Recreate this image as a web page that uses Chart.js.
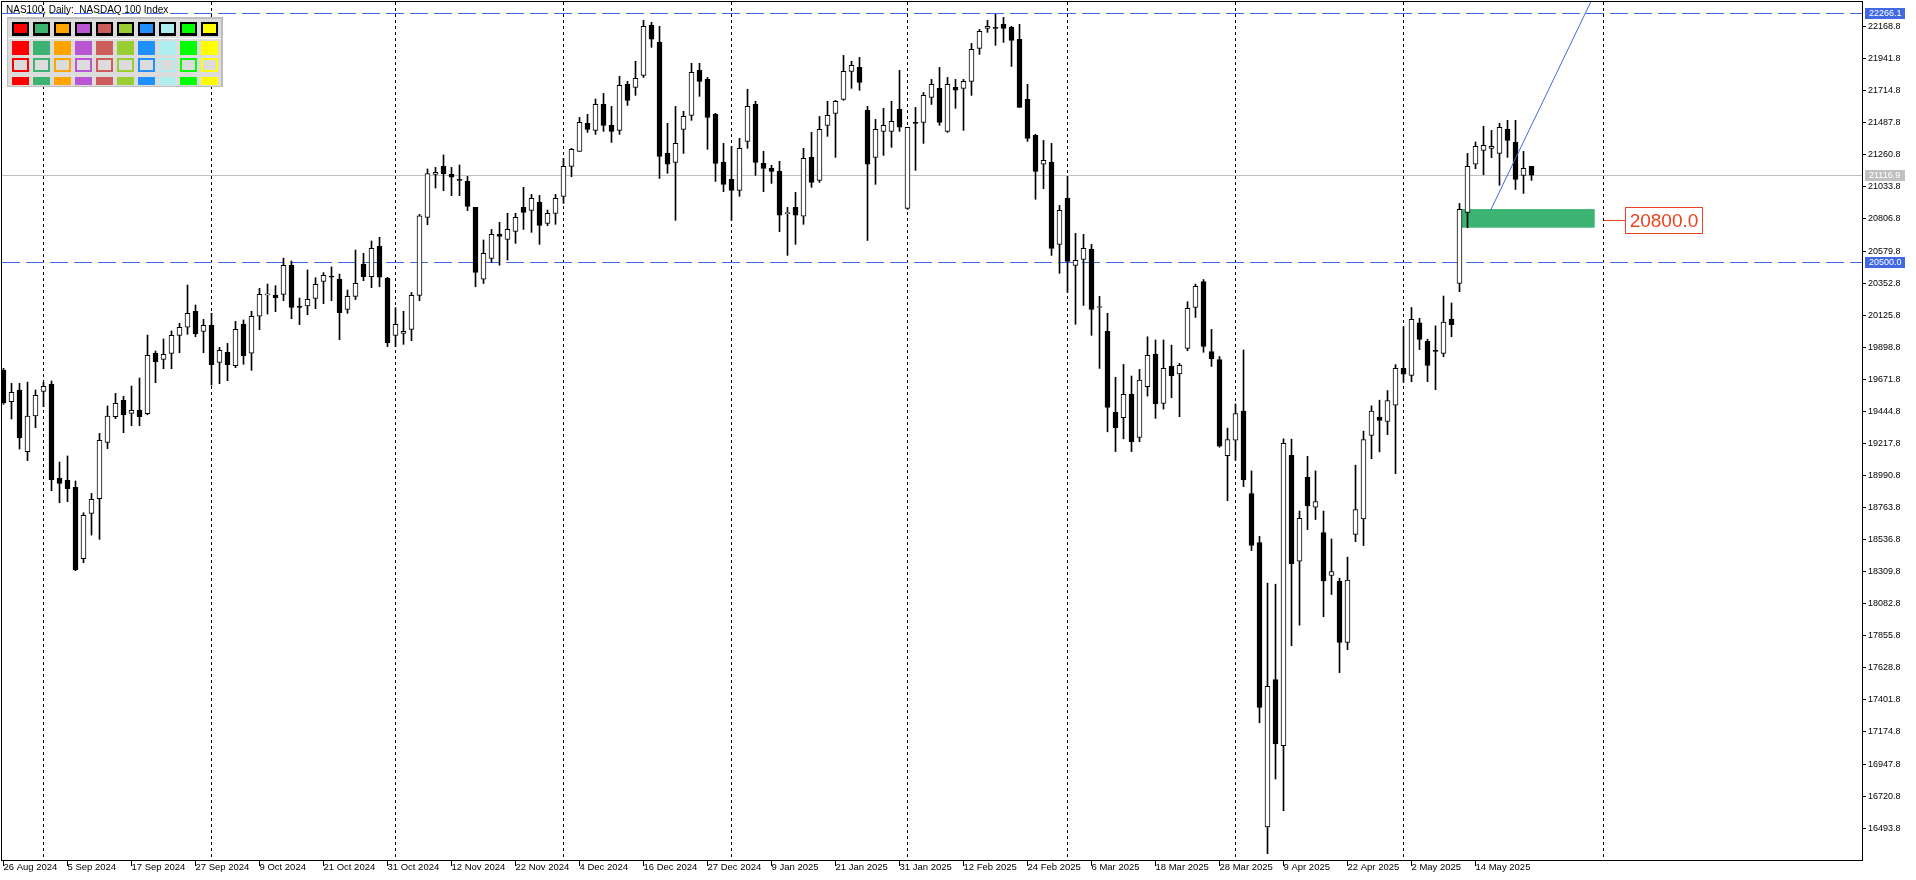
<!DOCTYPE html>
<html>
<head>
<meta charset="utf-8">
<title>NAS100 Daily</title>
<script src="https://cdn.jsdelivr.net/npm/chart.js@4.4.0/dist/chart.umd.min.js"></script>
<style>
html, body { margin: 0; padding: 0; background: #fff; }
#wrap { width: 1916px; height: 880px; }
</style>
</head>
<body>
<div id="wrap"><canvas id="myChart" width="1916" height="880"></canvas></div>
<script>
// daily candles, 26 Aug 2024 .. 23 May 2025 (index = bar number)
const opens = [
19737,19513,19596,19159,19412,19586,19638,18971,18956,18907,
18402,18723,18827,19225,19407,19523,19431,19452,19428,19855,
19813,19855,19983,20040,20153,20011,20054,19792,19863,19768,
20063,19856,20118,20270,20268,20273,20479,20191,20191,20245,
20365,20403,20382,20167,20259,20488,20398,20613,20387,19983,
19997,20025,20266,20818,21123,21180,21123,21087,21073,20889,
20380,20528,20698,20662,20719,20889,20868,20925,20776,20847,
20967,21179,21286,21484,21434,21618,21470,21434,21760,21739,
21824,22178,22057,21271,21208,21441,21540,21859,21795,21548,
21208,21087,21009,21356,21618,21201,21165,21144,20845,20889,
20826,21243,21080,21470,21555,21654,21852,21880,21576,21243,
21427,21427,21583,20882,21491,21491,21668,21732,21427,21739,
21732,21781,22015,22156,22163,22185,22163,22079,21654,21399,
21194,21208,20627,20953,20478,20521,20592,20180,20011,19438,
19400,19565,19260,19619,19848,19501,19763,19709,19891,20181,
20364,19868,19811,19131,19240,19446,18863,18516,16503,17546,
17078,19134,18384,18977,18766,18587,18283,18243,17809,18573,
18684,19275,19402,19373,19489,19749,19700,20072,19941,19877,
19855,20099,20351,20854,21194,21293,21307,21271,21441,21349,
21116,21179
];
const highs = [
19749,19643,19643,19652,19596,19652,19660,19086,19129,18952,
18727,18864,19289,19483,19572,19551,19624,19681,19985,19872,
19957,20014,20068,20339,20198,20096,20139,19898,19926,20082,
20092,20153,20316,20346,20335,20530,20509,20247,20446,20391,
20427,20467,20417,20304,20587,20564,20651,20677,20394,20179,
20153,20287,20840,21161,21172,21260,21172,21189,21109,20889,
20658,20733,20783,20847,20847,21031,20981,20974,20870,20981,
21236,21307,21526,21548,21656,21696,21604,21817,21781,21923,
22213,22199,22171,21484,21604,21569,21909,21909,21809,21555,
21342,21321,21378,21725,21640,21286,21187,21215,20889,20995,
21307,21420,21533,21640,21647,21965,21923,21951,21604,21512,
21590,21640,21859,21456,21597,21703,21795,21880,21809,21795,
21795,22050,22149,22213,22256,22234,22171,22185,21760,21406,
21363,21342,20903,21109,20705,20698,20627,20259,20139,19686,
19777,19695,19742,19973,19950,19950,19914,19785,20221,20346,
20378,20025,19833,19326,19497,19879,19023,18560,18229,18221,
19251,19248,18739,19126,19023,18739,18541,18264,18413,19064,
19305,19484,19524,19592,19776,20044,20180,20104,19956,20050,
20261,20212,20917,21271,21352,21463,21434,21484,21505,21505,
21285,21179
];
const lows = [
19495,19391,19178,19096,19329,19478,18883,18798,18805,18317,
18373,18569,18539,19181,19393,19294,19343,19343,19421,19648,
19747,19747,19860,19990,19973,19860,19631,19641,19662,19754,
19778,19735,20023,20134,20150,20228,20101,20059,20129,20172,
20207,20228,19952,20139,20236,20370,20320,20327,19903,19903,
19919,19945,20228,20766,21026,21007,20972,20972,20866,20327,
20350,20500,20480,20516,20634,20733,20712,20627,20760,20769,
20917,21106,21286,21420,21406,21427,21349,21406,21611,21682,
21809,22022,21094,21130,20797,21271,21505,21675,21300,21073,
21000,20797,20967,21307,21116,21000,21059,20717,20549,20627,
20769,21031,21066,21392,21243,21647,21732,21718,20655,21052,
21257,21314,21427,20875,21151,21342,21618,21470,21420,21590,
21434,21682,21972,22128,22036,22057,21887,21597,21356,20946,
21021,20549,20422,20287,20061,20195,19983,19749,19300,19160,
19250,19160,19230,19553,19395,19461,19541,19407,19874,20110,
19863,19763,19191,18812,19099,18912,18459,17240,16313,16842,
16617,17785,17931,18608,18679,17991,18148,17595,17758,18522,
18495,19110,19158,19280,19004,19652,19654,19882,19655,19598,
19832,19973,20292,20745,21163,21120,21241,21045,21243,21016,
20988,21080
];
const closes = [
19505,19579,19258,19412,19558,19622,18961,18935,18897,18324,
18709,18822,19240,19412,19501,19421,19452,19407,19841,19796,
19848,19983,20040,20139,19995,20054,19775,19877,19775,20025,
19839,20118,20273,20275,20250,20479,20181,20181,20238,20344,
20408,20394,20143,20259,20351,20398,20599,20394,19931,20061,
20011,20266,20830,21128,21137,21128,21102,21080,20896,20429,
20563,20698,20684,20733,20818,20854,20953,20762,20847,20953,
21179,21300,21491,21441,21618,21470,21427,21753,21647,21802,
22171,22079,21250,21194,21342,21533,21845,21781,21526,21201,
21052,21009,21307,21604,21208,21165,21144,20833,20849,20833,
21236,21066,21441,21540,21640,21852,21894,21774,21194,21441,
21470,21498,21456,21456,21484,21682,21760,21491,21760,21718,
21781,22008,22135,22171,22156,22156,22071,21597,21378,21144,
21222,20599,20868,20507,20514,20599,20167,20182,19473,19330,
19565,19230,19667,19841,19497,19749,19697,19770,20174,20330,
19904,19817,19199,19245,19429,18961,18495,17349,17498,17091,
19218,18367,18687,18776,18806,18245,18310,17809,18251,18749,
19245,19446,19381,19522,19749,19708,20096,19955,19770,19870,
20077,20058,20875,21179,21321,21328,21321,21455,21363,21087,
21165,21117
];

// time axis labels, one every 8 bars
const dateLabels = ['26 Aug 2024','5 Sep 2024','17 Sep 2024','27 Sep 2024','9 Oct 2024','21 Oct 2024',
  '31 Oct 2024','12 Nov 2024','22 Nov 2024','4 Dec 2024','16 Dec 2024','27 Dec 2024','9 Jan 2025',
  '21 Jan 2025','31 Jan 2025','12 Feb 2025','24 Feb 2025','6 Mar 2025','18 Mar 2025','28 Mar 2025',
  '9 Apr 2025','22 Apr 2025','2 May 2025','14 May 2025'];
const dateTickIdx = [0,8,16,24,32,40,48,56,64,72,80,88,96,104,112,120,128,136,144,152,160,168,176,184];

const priceTicks = [22168.8,21941.8,21714.8,21487.8,21260.8,21033.8,20806.8,20579.8,20352.8,20125.8,
  19898.8,19671.8,19444.8,19217.8,18990.8,18763.8,18536.8,18309.8,18082.8,17855.8,17628.8,17401.8,
  17174.8,16947.8,16720.8,16493.8];

// objects on the chart
const monthStarts = [5,26,49,70,91,113,133,154,175,200];
const dashLevels = [22266.1, 20500.0];
const bidPrice = 21116.9;
const zoneIdx = [182.1, 198.9];
const zonePrice = [20877, 20745];
const trendIdx = [185.9, 200];
const trendPrice = [20870, 22531];
const labelIdx = 200;
const labelPrice = 20800.0;
const paletteColors = ['#FF0000','#3CB371','#FFA500','#BA55D3','#CD5C5C','#9ACD32','#1E90FF','#AFEEEE','#00FF00','#FFFF00'];

const BLUE = '#4169E1';
const axisFont = { family: "'Liberation Sans', Arial, sans-serif", size: 9 };
const dateFont = { family: "'Liberation Sans Narrow', 'Liberation Sans', sans-serif", size: 9.5 };

let wicks = opens.map((o, i) => ({ x: i, y: [lows[i], highs[i]] }));
let bodies = opens.map((o, i) => ({ x: i, y: [o, closes[i]] }));
let bodyFill = opens.map((o, i) => closes[i] >= o ? '#ffffff' : '#000000');

function hline(ctx, a, py) {
    py = Math.round(py) + 0.5;
    ctx.beginPath();
    ctx.moveTo(a.left, py);
    ctx.lineTo(a.right, py);
    ctx.stroke();
}

function badge(ctx, a, py, text, bg) {
    let bx = a.right + 3;
    ctx.fillStyle = bg;
    ctx.fillRect(bx, Math.round(py) - 5, 40, 11);
    ctx.fillStyle = '#fff';
    ctx.font = "9px 'Liberation Sans', Arial, sans-serif";
    ctx.textBaseline = 'middle';
    ctx.textAlign = 'left';
    ctx.fillText(text, bx + 4, Math.round(py) + 0.5);
}

const overlay = {
    id: 'overlay',
    beforeDatasetsDraw(chart) {
        const { ctx, chartArea: a, scales: { x, y } } = chart;
        ctx.save();
        ctx.beginPath();
        ctx.rect(a.left, a.top, a.right - a.left, a.bottom - a.top);
        ctx.clip();

        // green zone
        let zx1 = x.getPixelForValue(zoneIdx[0]), zx2 = x.getPixelForValue(zoneIdx[1]);
        let zy1 = y.getPixelForValue(zonePrice[0]), zy2 = y.getPixelForValue(zonePrice[1]);
        ctx.fillStyle = '#3CB371';
        ctx.fillRect(zx1, zy1, zx2 - zx1, zy2 - zy1);

        // bid line
        ctx.lineWidth = 1;
        ctx.strokeStyle = '#C0C0C0';
        hline(ctx, a, y.getPixelForValue(bidPrice));

        // month separators
        ctx.strokeStyle = '#000';
        ctx.setLineDash([3, 3]);
        monthStarts.forEach(i => {
            let px = Math.floor(x.getPixelForValue(i)) + 0.5;
            ctx.beginPath();
            ctx.moveTo(px, a.top);
            ctx.lineTo(px, a.bottom);
            ctx.stroke();
        });

        // horizontal levels
        ctx.strokeStyle = BLUE;
        ctx.setLineDash([18, 6]);
        dashLevels.forEach(p => hline(ctx, a, y.getPixelForValue(p)));
        ctx.restore();
    },
    afterDatasetsDraw(chart) {
        const { ctx, chartArea: a, scales: { x, y } } = chart;
        ctx.save();
        ctx.beginPath();
        ctx.rect(a.left, a.top, a.right - a.left, a.bottom - a.top);
        ctx.clip();

        // trend line
        ctx.strokeStyle = BLUE;
        ctx.lineWidth = 1;
        ctx.beginPath();
        ctx.moveTo(x.getPixelForValue(trendIdx[0]), y.getPixelForValue(trendPrice[0]));
        ctx.lineTo(x.getPixelForValue(trendIdx[1]), y.getPixelForValue(trendPrice[1]));
        ctx.stroke();

        // price label 20800.0
        let lx = Math.floor(x.getPixelForValue(labelIdx)) + 1;
        let ly = Math.round(y.getPixelForValue(labelPrice)) + 0.5;
        ctx.strokeStyle = '#E9441F';
        ctx.beginPath();
        ctx.moveTo(lx, ly);
        ctx.lineTo(lx + 21, ly);
        ctx.stroke();
        ctx.fillStyle = '#fff';
        ctx.fillRect(lx + 21.5, ly - 13, 77, 26);
        ctx.strokeRect(lx + 21.5, ly - 13, 77, 26);
        ctx.fillStyle = '#E9441F';
        ctx.font = "19px 'Liberation Sans', Arial, sans-serif";
        ctx.textAlign = 'center';
        ctx.textBaseline = 'middle';
        ctx.fillText(labelPrice.toFixed(1), lx + 60, ly + 1);
        ctx.restore();
    },
    afterDraw(chart) {
        const { ctx, chartArea: a, scales: { y } } = chart;
        ctx.save();
        // frame
        ctx.strokeStyle = '#000';
        ctx.lineWidth = 1;
        ctx.strokeRect(a.left - 0.5, a.top - 0.5, a.right - a.left + 1, a.bottom - a.top + 1);

        // axis badges
        badge(ctx, a, y.getPixelForValue(dashLevels[0]), dashLevels[0].toFixed(1), BLUE);
        badge(ctx, a, y.getPixelForValue(dashLevels[1]), dashLevels[1].toFixed(1), BLUE);
        badge(ctx, a, y.getPixelForValue(bidPrice), bidPrice.toFixed(1), '#C0C0C0');

        // title
        ctx.fillStyle = '#000';
        ctx.font = "10px 'Liberation Sans', Arial, sans-serif";
        ctx.textAlign = 'left';
        ctx.textBaseline = 'alphabetic';
        ctx.fillText('NAS100, Daily:  NASDAQ 100 Index', 6, 13);

        // colour panel
        ctx.fillStyle = '#BEBEBE';
        ctx.fillRect(7, 17, 216, 70);
        ctx.fillStyle = '#DCDCDC';
        ctx.fillRect(8, 19, 213, 67);
        ctx.fillStyle = '#fff';
        ctx.fillRect(8, 38, 213, 1);
        paletteColors.forEach((c, k) => {
            let bx = 12 + 21 * k;
            // row 1: bordered swatch
            ctx.fillStyle = '#000';
            ctx.fillRect(bx, 22, 17, 14);
            ctx.fillStyle = c;
            ctx.fillRect(bx + 2, 24, 13, 9);
            // row 2: filled
            ctx.fillStyle = c;
            ctx.fillRect(bx, 41, 17, 14);
            // row 3: outline
            ctx.strokeStyle = c;
            ctx.lineWidth = 2;
            ctx.strokeRect(bx + 1, 59, 15, 12);
            // row 4: strip
            ctx.fillStyle = c;
            ctx.fillRect(bx, 77, 17, 8);
        });
        ctx.restore();
    }
};

function initChart() {
    const ctx = document.getElementById('myChart');
    return new Chart(ctx, {
        type: 'bar',
        data: {
            datasets: [
                {
                    label: 'wick',
                    data: wicks,
                    backgroundColor: '#000',
                    barThickness: 1,
                    grouped: false,
                    order: 2
                },
                {
                    label: 'body',
                    data: bodies,
                    backgroundColor: bodyFill,
                    borderColor: '#000',
                    borderWidth: 1,
                    borderSkipped: false,
                    barThickness: 5,
                    minBarLength: 1,
                    grouped: false,
                    order: 1
                }
            ]
        },
        options: {
            responsive: false,
            animation: false,
            devicePixelRatio: 1,
            layout: { padding: { left: 2, top: 2, right: 0, bottom: 0 } },
            plugins: { legend: { display: false }, tooltip: { enabled: false } },
            scales: {
                x: {
                    type: 'linear',
                    offset: false,
                    min: -0.1875,
                    max: 232.3125,
                    afterBuildTicks: s => { s.ticks = dateTickIdx.map(v => ({ value: v })); },
                    afterFit: s => { s.height = 20; s.paddingLeft = 0; s.paddingRight = 0; },
                    ticks: {
                        autoSkip: false,
                        maxRotation: 0,
                        minRotation: 0,
                        align: 'start',
                        padding: -4,
                        color: '#000',
                        font: dateFont,
                        callback: (v, idx) => dateLabels[idx]
                    },
                    grid: { offset: false, drawOnChartArea: false, tickLength: 6, color: '#000', tickColor: '#000' },
                    border: { display: true, color: '#000' }
                },
                y: {
                    type: 'linear',
                    position: 'right',
                    min: 16268.5,
                    max: 22343,
                    afterBuildTicks: s => { s.ticks = priceTicks.map(v => ({ value: v })); },
                    afterFit: s => { s.width = 54; s.paddingTop = 0; s.paddingBottom = 0; },
                    ticks: {
                        padding: 2,
                        color: '#000',
                        font: axisFont,
                        callback: v => Number(v).toFixed(1)
                    },
                    grid: { drawOnChartArea: false, tickLength: 4, color: '#000', tickColor: '#000' },
                    border: { display: true, color: '#000' }
                }
            }
        },
        plugins: [overlay]
    });
}

window.onload = () => {
    initChart();
};
</script>
</body>
</html>
